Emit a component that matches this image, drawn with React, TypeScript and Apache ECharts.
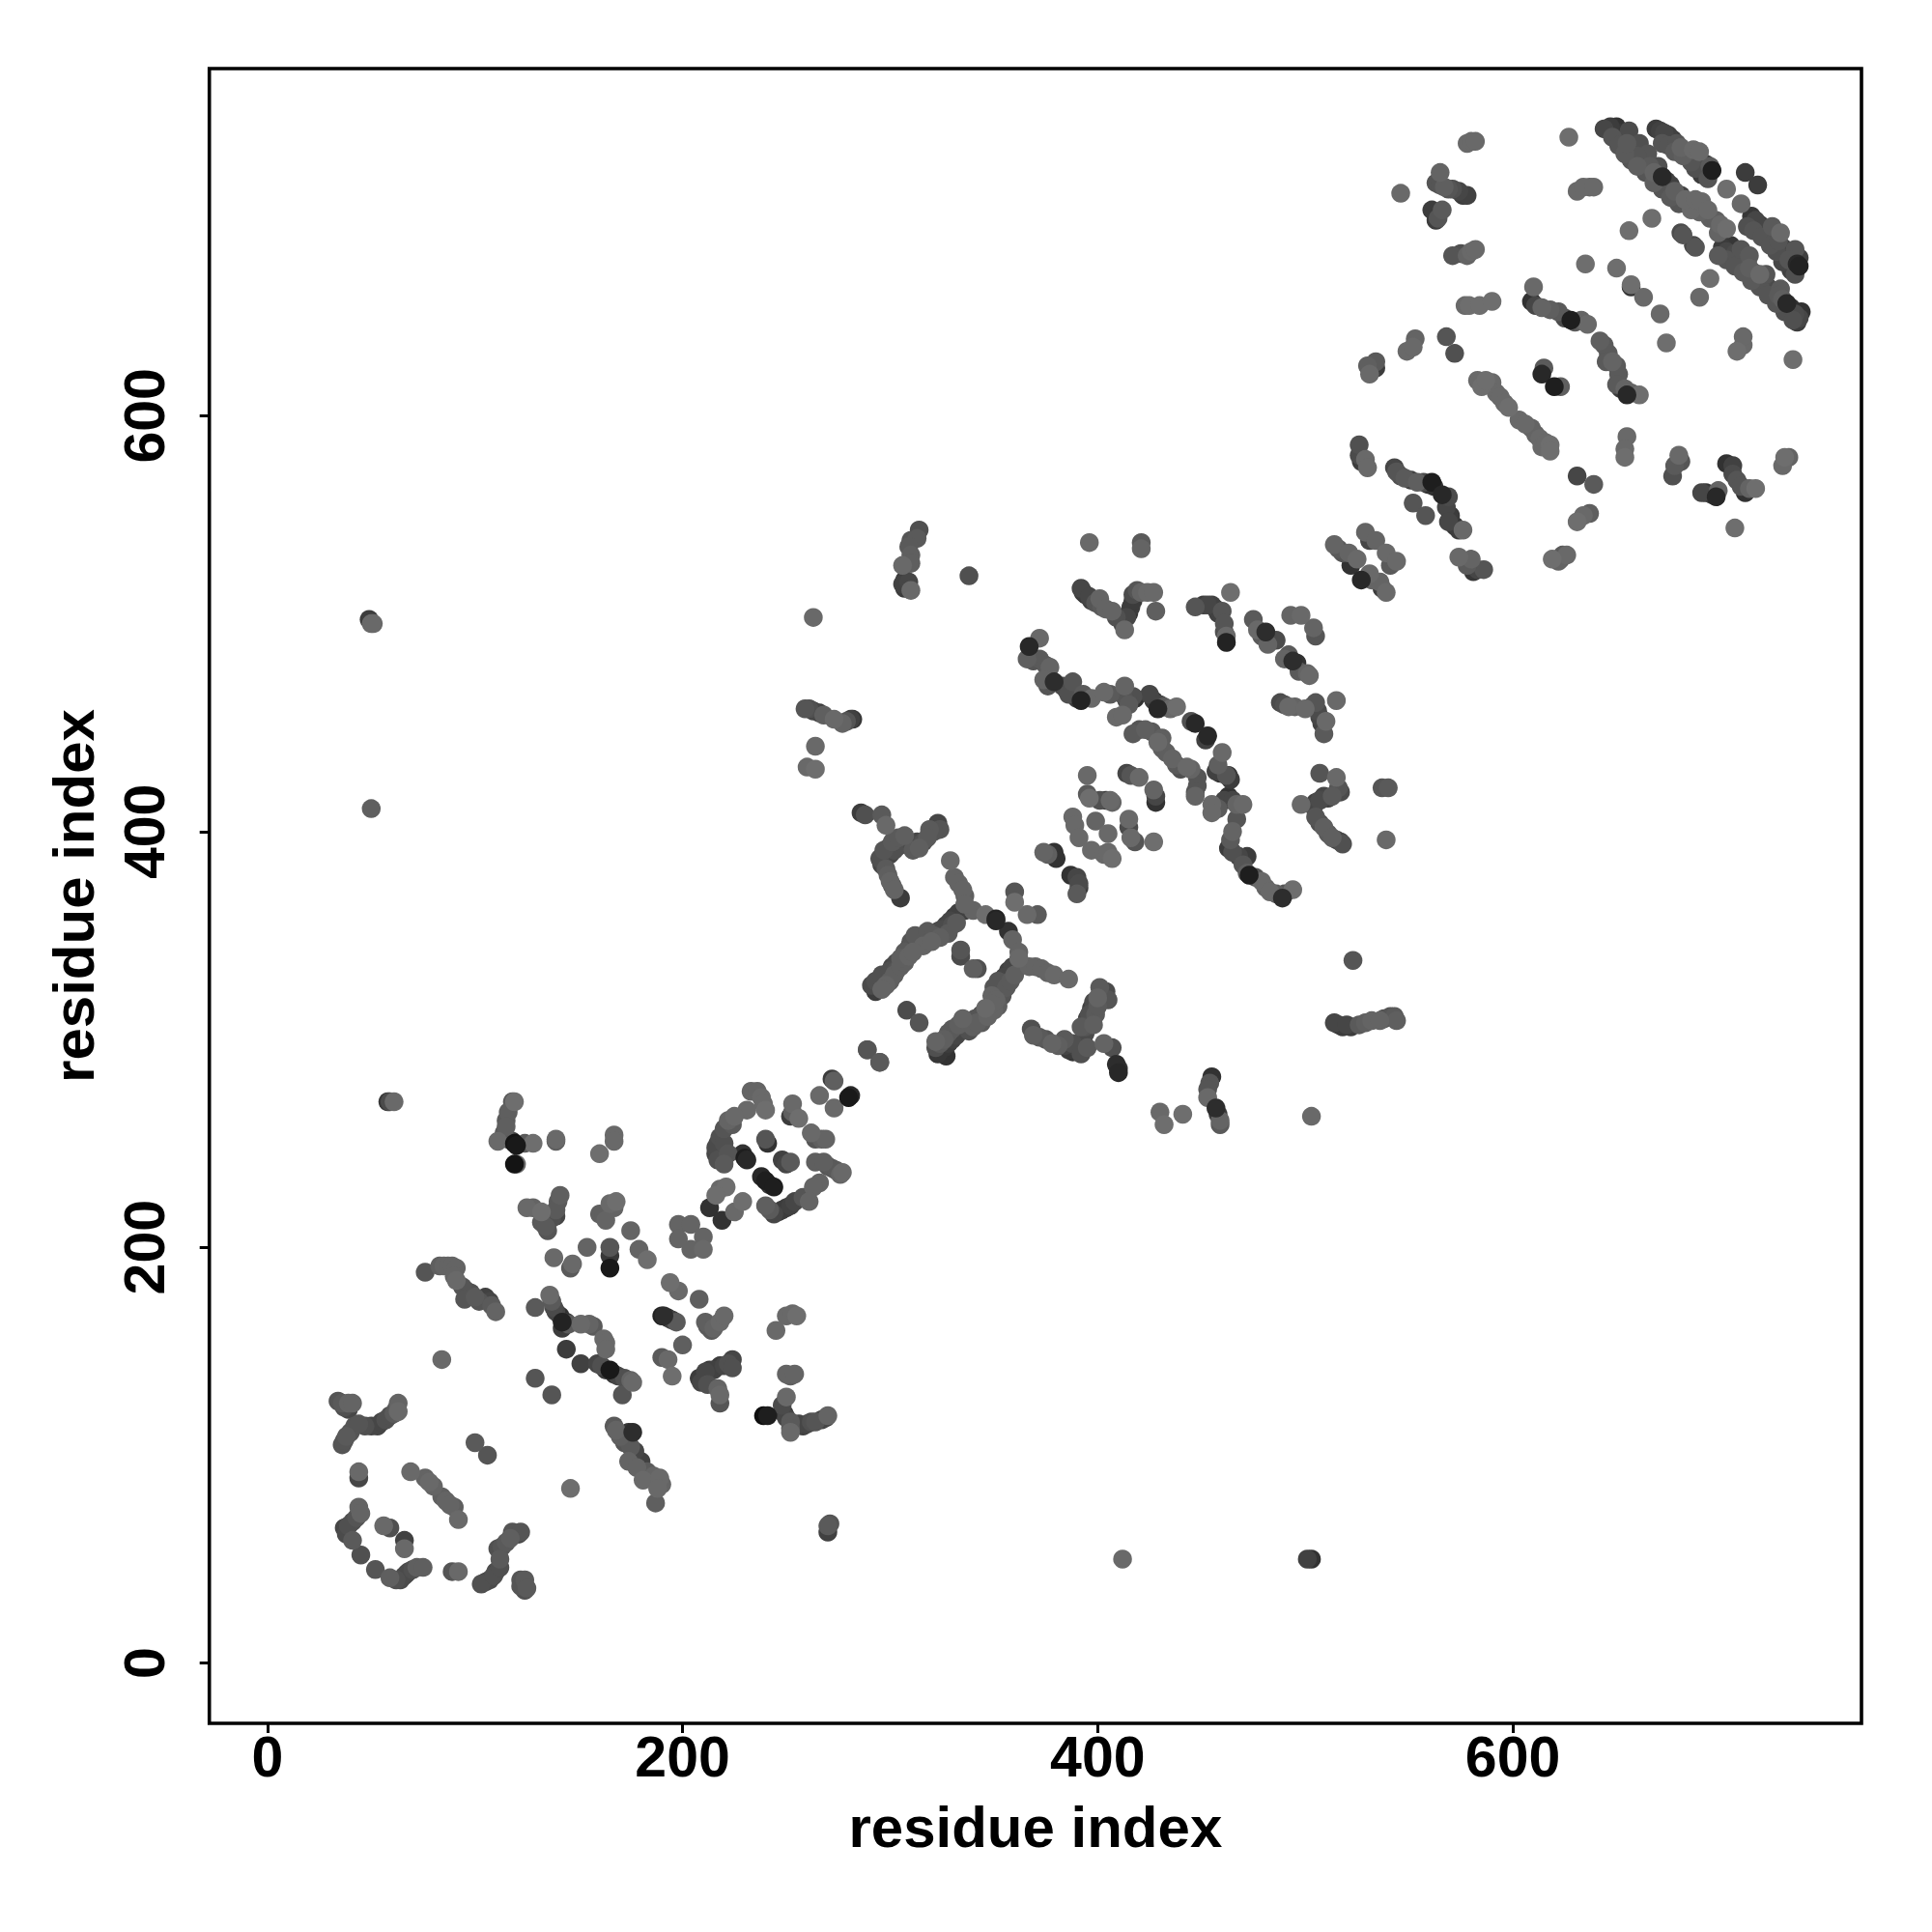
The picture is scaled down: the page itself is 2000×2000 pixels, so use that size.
import React, { useEffect, useRef } from "react";
import * as echarts from "echarts";

type P = [number, number, number];

const tickValues = [0, 200, 400, 600];
const axisTitle = "residue index";

const outliers: P[] = [
  [49,502,60],[50,500,105],[51,500,105],[50,411,95],[501,50,65],[503,50,50],[412,50,105],[503,263,105],[523,338,85],[338,523,80],[263,503,105],[270,63,65],[270,66,90],[271,67,85],[146,84,110],[84,146,105],[396,539,105],[421,539,90],[421,536,100],[546,707,105],
];
const lowerLeft: P[] = [
  [44,89,70],[44,92,105],[69,92,105],[76,89,100],[78,87,105],[80,85,100],[84,80,95],[86,78,100],[88,76,100],[90,75,95],[92,69,105],
  [44,75,100],[45,72,100],[43,70,85],[41,68,80],[39,66,80],[37,65,70],[38,62,75],[41,59,90],[45,52,80],[52,45,85],[59,41,95],
  [62,40,80],[64,40,75],[66,42,75],[67,43,70],[68,44,75],[70,45,80],[72,46,95],[75,46,95],
  [56,66,105],[59,65,80],[66,55,105],[66,59,65],[89,44,85],[92,44,105],
  [103,38,80],[105,39,75],[107,40,75],[109,42,80],[110,44,75],[112,46,80],[112,50,90],[111,55,80],[113,56,85],[115,58,90],[117,60,95],[118,63,85],[121,62,70],[122,63,85],
  [122,40,85],[124,40,90],[122,37,85],[124,35,80],[125,36,90],[100,106,90],[106,100,85],
  [34,126,85],[36,125,90],[37,123,80],[39,122,70],[39,125,100],[41,125,100],
  [36,105,85],[37,107,85],[38,109,90],[40,111,85],[42,114,85],[44,115,85],[47,114,80],[50,114,70],[53,114,70],[55,116,70],[57,117,80],[59,119,80],[61,120,90],[62,122,90],[63,125,100],[63,121,105],
];
const strandsLow: P[] = [
  [167,114,90],[168,112,100],[170,109,95],[172,108,90],[174,111,55],[176,111,45],[172,106,85],[175,104,90],[177,102,70],[178,98,60],[180,97,65],[174,97,100],[178,94,100],[183,92,90],[181,88,105],[186,90,100],[189,89,105],[190,86,100],[188,84,105],[187,77,95],
  [239,119,15],[241,119,30],[250,128,105],[248,124,75],[249,120,55],[250,118,70],[252,116,90],[252,113,90],[252,111,105],[256,115,70],[258,114,65],[260,115,70],[262,116,80],[264,116,85],[267,117,70],[269,118,60],[270,119,100],
  [76,188,85],[83,191,95],[85,191,100],[87,191,100],[89,191,100],[91,190,100],[90,186,100],[91,184,105],[94,181,85],[96,179,70],[98,178,80],[95,175,85],[100,176,90],[102,174,85],[105,176,65],[107,174,70],[108,172,90],[110,169,100],
  [129,171,90],[136,177,105],[137,174,90],[138,171,75],[139,169,70],[141,167,50],[142,164,35],[144,164,55],[142,161,60],[145,163,90],[151,163,105],[155,163,100],[157,162,90],
  [162,156,105],[163,154,105],[163,151,105],[144,151,60],[151,144,65],[159,144,70],[161,143,80],[163,141,60],[165,141,25],[167,139,50],[169,138,70],[172,137,80],[175,136,100],[176,135,105],[171,129,85],[129,137,85],[137,129,85],
];
const ringMid: P[] = [
  [194,183,110],[198,179,105],[208,175,95],[190,167,35],[191,167,45],[193,166,50],[195,165,65],[197,164,90],
  [211,164,95],[212,162,90],[214,160,90],[215,161,100],[218,164,105],[220,167,105],[200,153,95],[190,147,90],[193,146,105],[195,138,110],
  [208,137,60],[209,135,70],[210,138,60],[212,134,80],[211,140,70],[213,141,60],[215,141,65],[218,143,60],[220,143,70],[222,144,80],[224,142,80],[224,146,70],
  [218,125,85],[218,129,105],[217,132,100],[245,160,105],[250,167,105],[253,168,105],[255,167,110],[250,139,100],[254,139,100],[252,138,95],
  [198,211,100],[204,211,100],[198,204,100],[210,205,100],[204,199,100],[210,199,105],
  [141,225,95],[140,222,90],[139,218,90],[139,215,70],[137,214,80],[132,212,90],[134,210,90],[135,208,85],[125,219,105],[128,219,100],[132,217,110],
  [165,221,105],[167,219,100],[168,222,110],[160,216,95],[162,215,95],[163,213,100],[175,208,100],[154,200,100],[138,195,105],[146,190,90],[147,192,105],[165,190,25],[165,196,55],[165,200,85],[179,199,100],[183,194,110],
  [118,270,90],[119,270,110],[116,265,95],[115,261,90],[115,258,95],[114,255,90],[111,251,105],[116,252,70],[118,251,50],[119,250,20],[120,249,25],[124,250,90],[128,250,110],[119,240,20],[120,240,105],
  [139,252,105],[139,251,95],[167,254,105],[167,251,105],[160,245,110],[58,270,55],[59,270,75],[61,270,105],
];
const clusterPair: P[] = [
  [233,275,100],[236,275,100],[238,272,105],[239,269,105],[240,266,110],[231,266,105],[222,261,100],[224,259,90],[225,263,105],
  [220,257,85],[218,253,80],[217,250,75],[216,248,75],[216,245,70],[217,242,80],[220,240,90],[222,245,85],[220,250,80],
  [253,269,105],[252,263,60],[253,265,95],[256,262,110],[272,281,60],[273,280,95],[266,273,105],[273,267,105],[281,273,40],[280,272,25],[262,255,105],[264,252,85],[267,252,95],[269,252,100],
  [295,289,85],[289,295,85],
  [229,245,50],[230,243,30],[231,242,40],[240,252,85],[241,250,50],[248,242,65],[250,240,70],[252,241,90],[238,234,40],[240,232,30],[242,230,55],[244,229,30],
  [264,241,95],[268,241,95],[270,239,85],[272,238,90],[274,237,90],[276,235,100],[277,236,105],[266,231,100],[263,229,100],[261,222,100],
  [240,220,95],[242,218,90],[244,216,70],[246,217,55],[248,218,60],[250,219,60],[252,220,65],[254,222,70],[258,224,85],
  [221,229,110],[218,228,105],[216,225,110],[213,219,50],[219,213,50],[225,217,105],[229,222,110],
];
const crossingSide: P[] = [
  [291,326,75],[293,328,80],[296,331,80],[298,326,100],[300,328,95],[302,331,95],[303,333,85],[305,335,95],[307,337,95],[309,340,100],[310,347,85],[312,350,90],[316,345,100],[320,347,100],[324,349,95],[328,351,90],[330,355,80],[332,356,90],
  [322,296,80],[324,298,90],[326,300,95],[328,303,90],[330,305,90],[333,307,95],[335,310,100],[338,304,80],[340,306,95],[342,308,95],[344,308,90],[347,311,100],[350,314,100],[352,316,95],[349,321,100],[350,325,85],[352,328,85],[356,325,90],[358,328,90],[360,331,95],
  [384,300,90],[388,298,80],[392,306,90],[398,307,95],[399,312,90],[400,316,90],[392,293,80],[395,296,90],[401,325,90],[405,319,85],
  [295,387,80],[297,391,85],[299,392,80],[301,395,90],[304,397,90],[307,398,95],[311,391,90],[314,392,95],[319,401,90],[324,401,85],
];
const crossing: P[] = [
  [289,295,85],[295,289,90],[308,314,75],[314,308,85],
  [293,323,60],[294,325,60],[295,327,65],[297,329,60],[296,324,100],[299,331,70],[300,333,80],[301,335,70],[303,337,75],[305,339,95],[307,342,90],[309,344,60],[311,342,100],[313,347,85],[315,349,85],[318,352,90],[321,350,90],[323,352,70],[325,353,75],[327,355,65],[329,357,70],[331,359,60],[333,361,65],[336,362,65],[340,362,100],
  [346,360,110],[351,358,35],[351,357,40],[357,352,50],[359,348,100],[362,342,100],[362,339,105],[360,371,85],[360,366,110],[366,360,105],[371,360,90],[334,343,85],[334,340,75],[340,334,95],[342,334,80],
  [329,386,105],[331,378,100],[333,375,100],[335,372,100],[336,369,95],[336,365,100],
  [367,335,100],[370,335,100],[373,334,100],[376,332,100],[379,331,105],[386,329,105],
  [322,299,100],[359,335,70],[357,333,65],[355,330,70],[354,327,65],[353,324,60],[354,321,85],[351,319,100],[349,317,100],[346,315,105],[344,312,80],[341,310,85],[338,308,75],[336,306,70],[334,304,65],[332,302,70],[330,300,65],[328,298,60],[326,296,55],[325,294,50],[323,293,55],[327,292,50],
  [368,305,80],[369,302,95],[372,301,90],[375,300,85],[378,298,100],[381,297,95],[384,297,70],[386,295,60],[388,294,55],[390,296,65],[391,298,70],[393,300,70],[394,303,75],[394,306,85],[395,310,70],[396,312,80],[397,315,65],[398,318,75],[400,320,100],[402,322,60],[404,323,75],
  [403,298,100],[407,296,80],[409,288,45],[410,286,55],[410,284,40],
  [455,282,50],[454,279,85],[453,276,85],[453,272,105],[457,267,45],[458,264,60],[459,261,100],[459,259,90],[430,265,105],[432,259,110],[441,264,110],
  [514,308,70],[516,307,60],[518,306,60],[520,307,70],[522,306,60],[526,307,90],[529,308,95],[532,309,100],[536,309,100],[538,310,85],[541,311,85],[543,311,90],[544,309,95],
];
const midLeft: P[] = [
  [259,459,85],[261,459,80],[263,458,70],[266,457,60],[268,456,95],[273,454,105],[277,452,100],[279,453,85],[281,454,65],[282,454,55],[264,441,105],[260,431,105],[264,430,110],
  [286,409,60],[288,408,80],[296,408,90],[298,403,105],
  [323,404,70],[322,402,60],[321,400,85],[318,397,90],[316,395,80],[313,395,70],[310,394,75],[307,394,70],[304,393,65],[302,391,80],[300,389,70],[298,388,65],[297,386,70],[296,384,70],[298,382,90],[299,379,95],[300,376,100],[301,374,90],[302,372,100],[305,368,60],
  [314,545,80],[310,540,85],[313,541,90],[309,537,90],[310,533,95],[310,529,95],[306,528,105],[307,521,60],[306,519,65],[307,517,60],[309,520,70],[310,516,105],
  [374,390,100],[376,389,95],[379,390,50],[380,387,50],[387,379,50],[390,378,70],[391,375,75],[391,373,60],[390,370,90],
  [388,407,105],[389,403,105],[391,397,105],[397,391,105],[403,389,105],[405,390,105],[407,387,110],[399,405,100],[405,399,105],
  [415,402,75],[415,406,105],[418,395,85],[416,397,105],[427,395,110],[395,427,105],[395,418,90],[396,416,110],[401,415,80],[404,415,60],[406,415,105],[407,414,100],
  [414,428,70],[416,427,85],[420,426,105],[428,414,50],[428,417,70],[427,420,100],
];
const midUpper: P[] = [
  [367,489,40],[372,493,105],[366,483,95],[369,482,85],[372,483,90],[375,480,90],[377,479,100],[374,473,100],[376,470,85],[379,472,45],[383,470,75],[385,468,70],[388,472,85],[386,466,80],[389,467,70],[390,464,60],[392,463,35],[393,466,90],[397,464,105],[403,467,105],[406,466,90],[409,455,105],[412,456,105],[413,470,100],[412,466,85],[414,463,70],[415,461,90],[417,465,80],[418,464,50],
  [425,466,70],[427,463,60],[429,459,40],[430,461,70],[432,460,90],[435,459,105],[438,460,110],
  [417,447,90],[420,449,85],[423,449,95],[426,448,90],[429,443,105],[431,445,95],[431,440,95],[433,438,95],[436,435,100],[438,432,90],[440,430,80],[443,431,105],[445,430,100],[448,426,85],[448,422,85],[447,417,100],[447,419,85],
  [445,453,80],[447,452,40],[452,444,65],[453,446,40],[458,432,95],[457,429,65],[459,428,50],[462,427,85],[463,427,55],[464,425,60],[460,438,105],
  [455,413,105],[455,409,105],[458,411,90],[461,415,70],[463,417,50],[465,415,70],[467,413,100],[470,413,105],[467,406,85],[465,400,100],[464,396,90],[463,392,60],[465,390,80],[468,388,70],[472,388,60],[470,384,85],[472,380,95],[473,379,30],[476,378,85],[479,376,105],[481,373,100],[483,371,105],[486,370,95],[489,368,45],[490,370,85],[494,372,110],
  [392,517,70],[393,515,60],[394,514,55],[396,513,70],[397,511,65],[399,510,85],[401,512,100],[402,508,90],[404,507,100],[407,506,100],[409,503,80],[411,502,70],[412,500,65],[413,497,105],[414,503,70],[415,505,55],[416,508,60],[417,511,60],[417,514,75],[419,516,85],[421,515,100],[424,515,105],[427,515,105],[428,506,95],
  [447,508,85],[451,509,60],[453,509,70],[455,509,65],[457,507,55],[458,505,65],[460,506,85],[461,500,85],[461,496,80],[462,491,35],[462,494,105],[464,515,110],
  [475,502,90],[477,497,105],[479,494,90],[481,496,45],[482,490,100],[483,492,55],[486,492,75],[490,483,100],[492,485,90],[494,482,45],[496,481,50],[497,477,90],[501,476,100],[502,475,105],
  [493,504,100],[498,504,105],[505,494,85],[504,498,100],
  [488,462,75],[490,461,80],[492,460,105],[495,460,100],[500,459,105],[503,460,60],[505,462,85],[506,458,75],[507,455,70],[509,447,90],[508,452,65],[510,453,105],[515,463,105],
  [507,428,85],[515,426,105],[516,421,85],[517,419,75],[498,413,105],[504,412,70],[505,414,65],[507,415,75],[509,417,70],[511,416,65],[513,417,90],
  [505,407,85],[507,404,80],[509,402,95],[511,399,90],[513,397,95],[515,396,70],[517,395,70],[518,394,80],[537,421,85],[540,421,90],[539,396,105],
  [514,538,100],[516,536,90],[518,534,85],[521,534,100],[522,528,50],[525,531,105],[529,544,100],[531,540,70],[534,540,100],[539,534,105],[541,528,90],[544,530,105],[527,521,40],[531,524,105],[532,521,100],[536,520,100],[537,517,60],[539,515,105],
];
const upperLeftOfRing: P[] = [
  [578,731,105],[580,732,105],[582,732,105],[565,717,100],[563,712,85],[565,711,85],[567,710,95],[569,709,85],[571,709,80],[574,708,70],[576,706,60],[578,706,65],
  [561,699,60],[563,697,55],[566,699,90],[563,694,60],[564,695,85],[571,677,85],[575,678,80],[578,677,100],[580,679,105],[582,680,105],
  [577,653,105],[579,653,110],[584,653,110],[590,655,110],[549,631,105],[552,633,105],[553,637,100],[568,638,85],[572,630,80],[530,624,95],[531,620,105],[534,623,60],[534,626,90],
  [526,586,80],[526,581,75],[527,578,60],[529,579,105],[530,575,105],
  [543,575,70],[544,573,85],[546,571,80],[548,570,90],[551,569,65],[554,568,95],[557,568,75],[559,567,50],[561,568,30],[562,566,50],[566,562,40],[569,561,75],[568,556,70],[570,552,60],[569,549,70],[572,547,55],[574,545,60],[576,545,105],[552,558,85],[558,552,85],
  [574,532,105],[578,528,90],[580,531,100],[581,525,55],[583,526,70],[586,526,85],
  [583,617,105],[585,614,110],[587,617,110],[590,616,105],[592,611,105],[594,609,105],[596,606,105],[598,604,110],[603,598,105],[606,596,105],[609,594,100],[611,591,100],[613,589,105],[614,585,105],[616,587,105],[618,586,110],[618,583,110],
];
const ringStrands: P[] = [
  [610,662,105],[609,655,50],[611,653,70],[614,652,100],[618,651,95],[622,650,90],[625,647,75],[628,646,30],[630,645,90],[633,646,100],[636,644,105],[642,636,95],[644,634,90],[646,630,90],[645,626,90],[648,626,100],[650,624,90],[651,620,90],[650,615,90],[652,613,60],[654,613,100],[655,610,40],[657,611,100],[661,610,110],
  [614,620,40],[615,623,90],[620,614,30],[623,614,95],[627,734,110],[631,708,105],[634,710,105],[637,710,100],[639,710,105],
  [635,673,110],[650,671,110],[657,662,50],[657,663,110],[663,657,105],[671,649,105],[674,635,110],[667,695,110],[656,689,110],
  [631,571,70],[639,567,90],[655,590,105],[654,584,105],[654,580,110],[631,549,110],[634,552,105],[637,553,95],[619,531,110],[622,530,100],[623,531,85],[624,533,90],[626,533,105],
  [677,571,80],[678,576,90],[681,578,85],[680,581,105],[691,563,70],[693,563,55],[696,562,60],[698,561,40],[699,564,100],[703,577,50],[706,576,65],[706,572,75],[708,569,85],[710,566,85],[712,563,50],[714,565,100],[717,565,110],[707,546,110],[730,576,105],[733,580,100],[731,580,110],[708,631,110],[711,634,105],[711,638,105],[735,627,110],
  [681,688,75],[682,687,85],[687,682,70],[688,681,85],[695,666,110],[690,657,105],[703,709,110],[710,702,105],[712,717,60],[718,711,60],
];
const ringDiagonalsSide: P[] = [
  [648,734,85],[651,730,85],[654,726,90],[657,723,85],[660,720,95],[664,717,85],[668,712,95],[672,709,85],[676,705,90],[680,702,85],[686,699,105],[690,698,100],[695,695,95],[699,688,100],[665,726,85],[670,720,80],[656,737,75],[661,731,80],
  [699,677,90],[703,675,85],[707,672,85],[711,669,90],[715,665,90],[719,662,85],[723,658,85],[727,654,85],[731,650,80],[735,646,80],[710,680,85],[714,677,90],[722,668,85],[729,661,90],
  [713,691,80],[716,689,85],[720,686,85],[724,682,85],[727,679,80],[730,674,70],[734,670,65],[736,668,80],[736,680,85],[738,676,65],[725,691,90],
  [672,731,85],[675,730,85],[678,727,90],[682,725,95],[686,722,85],[688,719,80],[691,716,60],[694,714,85],
];
const ringDiagonals: P[] = [
  [644,738,70],[647,739,60],[650,739,50],[652,736,55],[653,733,60],[655,731,90],[656,729,60],[658,727,75],[660,725,85],[662,723,50],[664,722,60],[666,720,90],[668,717,100],[670,715,70],[672,715,40],[674,713,60],[676,711,65],[678,708,95],[681,706,65],[683,704,105],[688,704,105],[691,703,105],[694,699,105],[698,694,95],[700,692,105],[703,690,110],
  [669,738,60],[671,737,65],[673,736,70],[675,735,65],[677,733,60],[679,731,85],[681,729,100],[684,727,75],[687,728,105],[690,727,105],[690,723,50],[693,721,60],[695,720,90],[696,718,30],
  [715,696,55],[717,694,70],[719,692,60],[721,690,65],[723,689,65],[726,686,60],[728,684,85],[729,688,105],[730,681,65],[732,678,60],[733,675,85],[735,676,50],[737,673,40],[738,672,35],
  [701,681,60],[703,679,70],[705,682,55],[707,678,75],[709,677,70],[711,675,60],[713,674,50],[714,671,95],[716,669,85],[719,668,105],[720,665,80],[722,663,60],[724,661,75],[725,658,70],[728,658,90],[730,656,95],[732,654,40],[734,652,50],[736,649,75],[737,645,60],[738,647,70],[739,650,50],
];

const contacts: P[] = [
  ...outliers, ...lowerLeft, ...strandsLow, ...ringMid, ...clusterPair, ...crossingSide, ...crossing, ...midLeft,
  ...midUpper, ...upperLeftOfRing, ...ringStrands, ...ringDiagonalsSide, ...ringDiagonals,
];
// Draw order: mid-grey contacts lighter-on-top, and the few near-black ones last.
const drawOrder = (p: P) => (p[2] <= 45 ? 999 : p[2]);
const ordered: P[] = [...contacts].sort((a, b) => drawOrder(a) - drawOrder(b));

const labelFont = { fontFamily: "Liberation Sans", fontWeight: "bold" as const, fontSize: 59, color: "#000" };
const titleFont = { ...labelFont, fontSize: 60 };

export default function App() {
  const ref = useRef<HTMLDivElement>(null);
  useEffect(() => {
    const chart = echarts.init(ref.current!, null, { renderer: "svg" });
    const axisBase = {
      type: "value" as const,
      name: axisTitle,
      nameLocation: "middle" as const,
      nameTextStyle: titleFont,
      splitLine: { show: false },
      axisLine: { show: false, onZero: false },
      axisTick: { show: true, length: 10, inside: false, lineStyle: { color: "#000", width: 3 }, customValues: tickValues },
    };
    chart.setOption({
      animation: false,
      backgroundColor: "#fff",
      grid: { left: 216.7, right: 73, top: 71, bottom: 216, show: true, borderColor: "#000", borderWidth: 3.6, backgroundColor: "transparent" },
      xAxis: {
        ...axisBase, min: -28, max: 768, nameGap: 77,
        axisLabel: { ...labelFont, margin: 5, customValues: tickValues, showMinLabel: true, showMaxLabel: true },
      },
      yAxis: {
        ...axisBase, min: -29, max: 767, nameGap: 110,
        axisLabel: { ...labelFont, rotate: 90, margin: 37, customValues: tickValues },
      },
      series: [{
        type: "scatter",
        symbol: "circle",
        symbolSize: 19.5,
        data: ordered,
        itemStyle: { color: (p: any) => { const g = p.value[2]; return `rgb(${g},${g},${g})`; }, opacity: 1 },
      }],
    });
    return () => chart.dispose();
  }, []);
  return <div ref={ref} style={{ position: "absolute", left: 0, top: 0, width: 2000, height: 2000 }} />;
}
